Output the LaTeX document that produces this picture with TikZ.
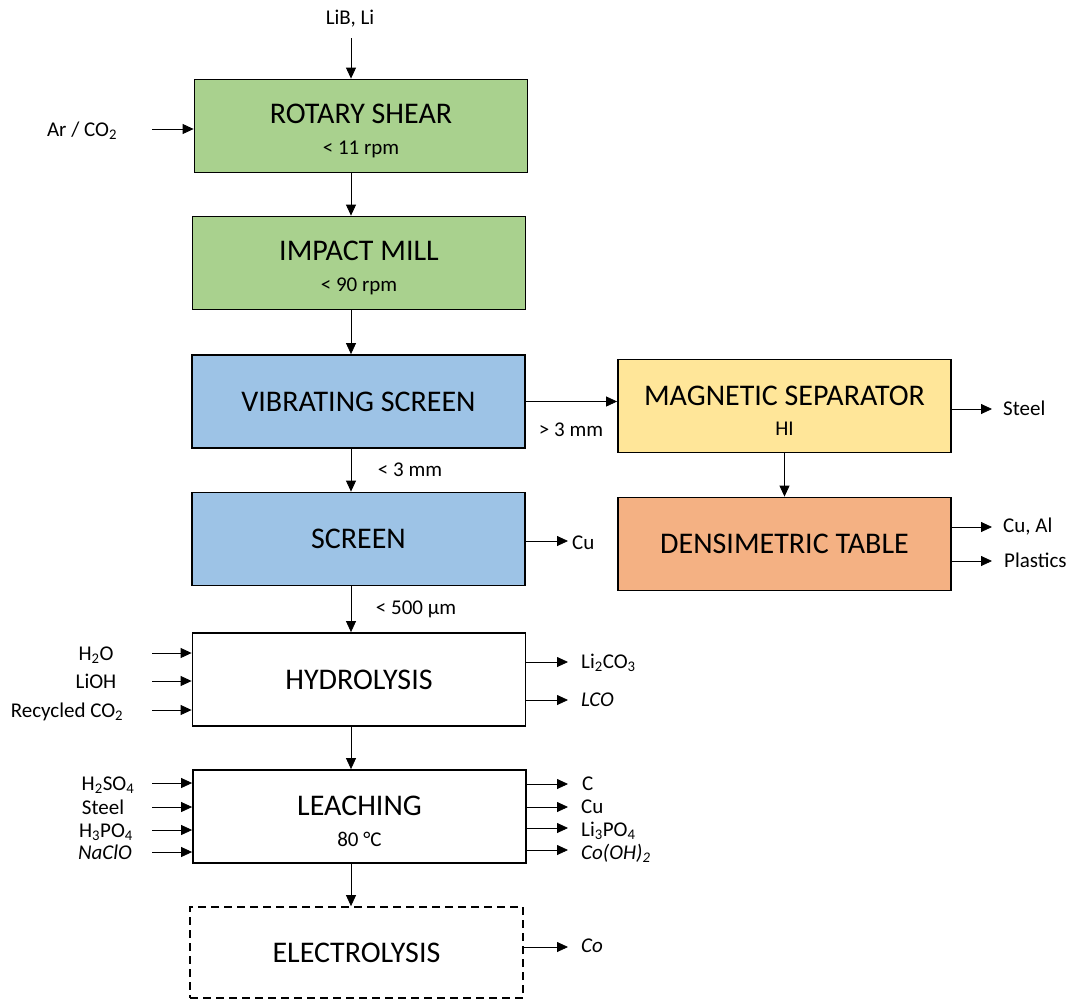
\documentclass[tikz,border=0pt]{standalone}
\usepackage{fontspec}
\setmainfont{Carlito}
\usepackage{tikz}
\usetikzlibrary{shapes,arrows.meta,positioning}
\definecolor{sheargreen}{HTML}{A9D18E}
\definecolor{screenblue}{HTML}{9DC3E6}
\definecolor{magyellow}{HTML}{FFE699}
\definecolor{tableorange}{HTML}{F4B183}
\tikzstyle{unit} = [rectangle, draw, line width=1.8pt, minimum width=333pt, minimum height=93pt, align=center, font=\fontsize{21}{30.5}\selectfont]
\tikzstyle{txt} = [font=\fontsize{21}{25}\selectfont, inner sep=0pt]
\tikzstyle{line} = [draw, line width=0.8pt, -{Triangle[length=11pt,width=10pt]}]
\newcommand{\unitname}[1]{{\fontsize{30}{30.5}\selectfont #1}}
\newcommand{\unithead}[1]{{\fontsize{30}{30.5}\selectfont\rule{0pt}{29pt}#1}}

\begin{document}
\begin{tikzpicture}[x=1pt,y=-1pt]
			\useasboundingbox (0,0) rectangle (1076,999);
			\coordinate (axis) at (351,0);

			% process units
			\node [unit, fill=sheargreen] (shear) at (361,126) {\unithead{ROTARY SHEAR}\\< 11 rpm};
			\node [unit, fill=sheargreen] (mill) at (359,263) {\unithead{IMPACT MILL}\\< 90 rpm};
			\node [unit, fill=screenblue] (vibscreen) at (358.5,401.5) {\unitname{VIBRATING SCREEN}};
			\node [unit, fill=screenblue] (screen) at (358.5,539) {\unitname{SCREEN}};
			\node [unit] (hydro) at (359,679.5) {\unitname{HYDROLYSIS}};
			\node [unit] (leach) at (359.5,816.5) {\unithead{LEACHING}\\80 °C};
			\node [unit, minimum height=91pt, dash pattern=on 8pt off 5pt] (electro) at (356.5,952.5) {\rule{0pt}{14pt}\unitname{ELECTROLYSIS}};
			\node [unit, fill=magyellow] (magsep) at (784.5,406) {\unithead{MAGNETIC SEPARATOR}\\HI};
			\node [unit, fill=tableorange] (denstable) at (784.5,544) {\unitname{DENSIMETRIC TABLE}};

			% main flow
			\coordinate (feed) at (351,38);
			\node [txt, anchor=base] (lib) at (350,24) {LiB, Li};
			\path [line] (feed) -- (feed |- shear.north);
			\path [line] (shear.south -| axis) -- (mill.north -| axis);
			\path [line] (mill.south -| axis) -- (vibscreen.north -| axis);
			\path [line] (vibscreen.south -| axis) -- (screen.north -| axis);
			\path [line] (screen.south -| axis) -- (hydro.north -| axis);
			\path [line] (hydro.south -| axis) -- (leach.north -| axis);
			\path [line] (leach.south -| axis) -- (electro.north -| axis);
			\path [line] (vibscreen.east) -- (vibscreen.east -| magsep.west);
			\path [line] (magsep.south) -- (denstable.north);

			\node [txt, anchor=base] (coarse) at (571,436) {> 3 mm};
			\node [txt, anchor=base] (fine) at (410,476) {< 3 mm};
			\node [txt, anchor=base] (finest) at (416,614) {< 500 µm};

			% inputs
			\coordinate (arco2-tail) at (152,129);
			\node [txt, anchor=base] (arco2) at (82,136) {Ar / CO\textsubscript{2}};
			\path [line] (arco2-tail) -- (arco2-tail -| shear.west);

			\coordinate (h2o-tail) at (152,653);
			\coordinate (lioh-tail) at (152,681);
			\coordinate (rco2-tail) at (152,710);
			\node [txt, anchor=base] (h2o) at (96,660) {H\textsubscript{2}O};
			\node [txt, anchor=base] (lioh) at (96,688) {LiOH};
			\node [txt, anchor=base] (rco2) at (67,717) {Recycled CO\textsubscript{2}};
			\path [line] (h2o-tail) -- (h2o-tail -| hydro.west);
			\path [line] (lioh-tail) -- (lioh-tail -| hydro.west);
			\path [line] (rco2-tail) -- (rco2-tail -| hydro.west);

			\coordinate (h2so4-tail) at (152,783);
			\coordinate (steelin-tail) at (152,807);
			\coordinate (h3po4-tail) at (152,830);
			\coordinate (naclo-tail) at (152,852);
			\node [txt, anchor=base] (h2so4) at (108,790) {H\textsubscript{2}SO\textsubscript{4}};
			\node [txt, anchor=base] (steelin) at (103,814) {Steel};
			\node [txt, anchor=base] (h3po4) at (106,837) {H\textsubscript{3}PO\textsubscript{4}};
			\node [txt, anchor=base] (naclo) at (105,859) {\itshape NaClO};
			\path [line] (h2so4-tail) -- (h2so4-tail -| leach.west);
			\path [line] (steelin-tail) -- (steelin-tail -| leach.west);
			\path [line] (h3po4-tail) -- (h3po4-tail -| leach.west);
			\path [line] (naclo-tail) -- (naclo-tail -| leach.west);

			% outputs
			\coordinate (cu1-head) at (568,541);
			\node [txt, anchor=base west] (cu1) at (572,549) {Cu};
			\path [line] (cu1-head -| screen.east) -- (cu1-head);

			\coordinate (steel-head) at (992,409);
			\coordinate (cual-head) at (992,527);
			\coordinate (plastics-head) at (992,561);
			\node [txt, anchor=base west] (steel) at (1003,415) {Steel};
			\node [txt, anchor=base west] (cual) at (1003,532) {Cu, Al};
			\node [txt, anchor=base west] (plastics) at (1004,567) {Plastics};
			\path [line] (steel-head -| magsep.east) -- (steel-head);
			\path [line] (cual-head -| denstable.east) -- (cual-head);
			\path [line] (plastics-head -| denstable.east) -- (plastics-head);

			\coordinate (li2co3-head) at (568,662);
			\coordinate (lco-head) at (568,700);
			\node [txt, anchor=base west] (li2co3) at (581,668) {Li\textsubscript{2}CO\textsubscript{3}};
			\node [txt, anchor=base west] (lco) at (581,706) {\itshape LCO};
			\path [line] (li2co3-head -| hydro.east) -- (li2co3-head);
			\path [line] (lco-head -| hydro.east) -- (lco-head);

			\coordinate (c-head) at (568,784);
			\coordinate (cu2-head) at (568,807);
			\coordinate (li3po4-head) at (568,828);
			\coordinate (cooh-head) at (568,850);
			\node [txt, anchor=base west] (c) at (582,790) {C};
			\node [txt, anchor=base west] (cu2) at (581,813) {Cu};
			\node [txt, anchor=base west] (li3po4) at (581,836) {Li\textsubscript{3}PO\textsubscript{4}};
			\node [txt, anchor=base west] (cooh) at (581,859) {\itshape Co(OH)\textsubscript{2}};
			\path [line] (c-head -| leach.east) -- (c-head);
			\path [line] (cu2-head -| leach.east) -- (cu2-head);
			\path [line] (li3po4-head -| leach.east) -- (li3po4-head);
			\path [line] (cooh-head -| leach.east) -- (cooh-head);

			\coordinate (co-head) at (568,947);
			\node [txt, anchor=base west] (co) at (581,952) {\itshape Co};
			\path [line] (co-head -| electro.east) -- (co-head);
		\end{tikzpicture}
\end{document}
